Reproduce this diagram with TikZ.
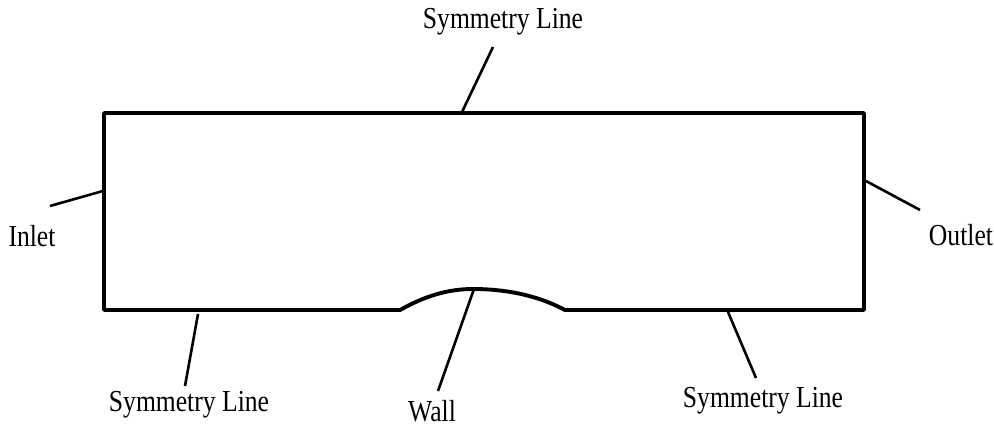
\documentclass[tikz,border=0pt]{standalone}
\usepackage{fontspec}
\setmainfont{Liberation Serif}[FakeStretch=0.84]
\begin{document}
\begin{tikzpicture}[x=1pt,y=-1pt,
  wallline/.style={line width=3.9pt,line join=round},
  leader/.style={line width=2.6pt},
  lbl/.style={font=\fontsize{30.5}{33}\selectfont,inner sep=0pt,text=black}]
\useasboundingbox (0,0) rectangle (994,427);
% geometry
\coordinate (tl) at (104,113);
\coordinate (tr) at (864,113);
\coordinate (br) at (864,310);
\coordinate (bl) at (104,310);
\coordinate (b1) at (400,310);
\coordinate (peak) at (473,289);
\coordinate (b2) at (565,310);
\draw[wallline] (bl) -- (tl) -- (tr) -- (br) -- (b2)
  .. controls (535,294) and (502,289) .. (peak)
  .. controls (448,289) and (425,296) .. (b1) -- cycle;
% labels
\node[lbl] (top) at (503,22) {Symmetry Line};
\node[lbl] (inlet) at (32,236) {Inlet};
\node[lbl] (outlet) at (961,235) {Outlet};
\node[lbl] (bls) at (189,405) {Symmetry Line};
\node[lbl] (wall) at (432,411) {Wall};
\node[lbl] (brs) at (763,401) {Symmetry Line};
% leader attach points
\coordinate (topA) at (462,112);
\coordinate (topB) at (493,47);
\coordinate (inA) at (103,191);
\coordinate (inB) at (50,206);
\coordinate (outA) at (866,181);
\coordinate (outB) at (920,210);
\coordinate (blA) at (198,314);
\coordinate (blB) at (185,386);
\coordinate (wA) at (474,289);
\coordinate (wB) at (438,391);
\coordinate (brA) at (728,312);
\coordinate (brB) at (756,378);
\draw[leader] (topA) -- (topB);
\draw[leader] (inA) -- (inB);
\draw[leader] (outA) -- (outB);
\draw[leader] (blA) -- (blB);
\draw[leader] (wA) -- (wB);
\draw[leader] (brA) -- (brB);
\end{tikzpicture}
\end{document}
